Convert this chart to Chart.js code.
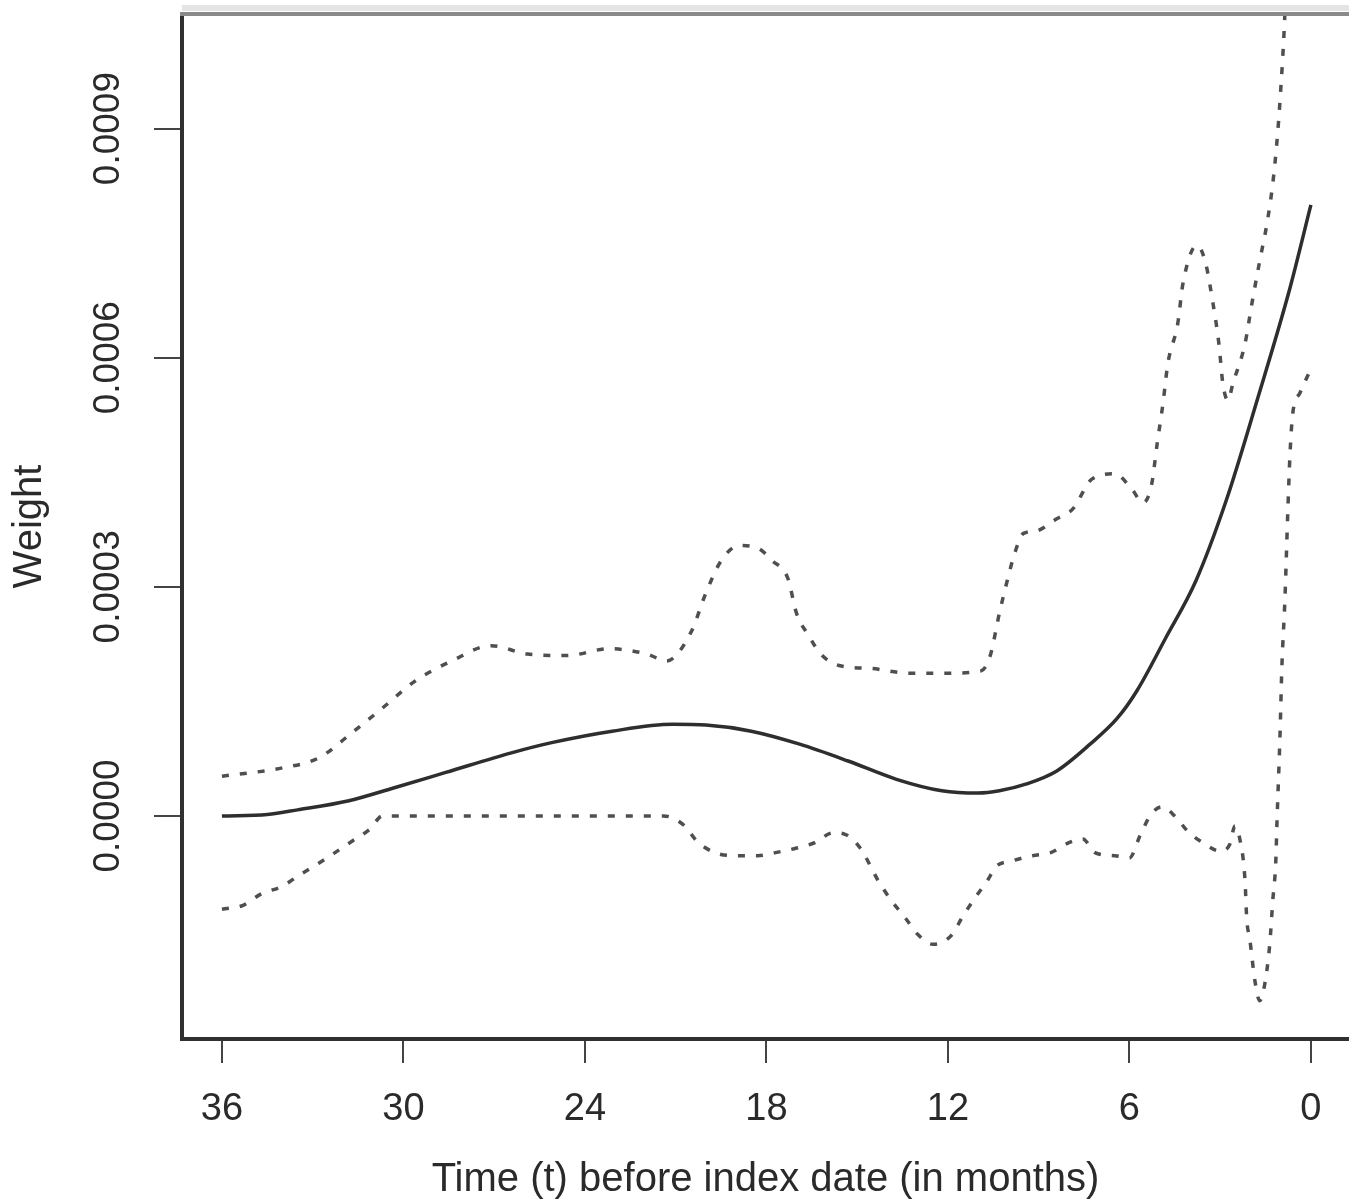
<!DOCTYPE html>
<html>
<head>
<meta charset="utf-8">
<script src="https://cdn.jsdelivr.net/npm/chart.js@4.4.1/dist/chart.umd.min.js"></script>
<style>
  html, body { margin: 0; padding: 0; background: #fff; }
  #plot { display: block; }
</style>
</head>
<body>
<canvas id="plot" width="1349" height="1204"></canvas>
<script>
// ── Data (months before index date → weight) ──
const xTicks = [36, 30, 24, 18, 12, 6, 0];
const yTicks = [0, 0.0003, 0.0006, 0.0009];

const monthsMid = [36, 34.5, 33.5, 31.8, 30.3, 28.6, 26.4, 25.1, 23.1, 21.1, 20, 18.5, 16.9, 15.3, 13.7, 12.2, 11, 10.3, 9.4, 8.4, 7.3, 6.4, 5.75, 4.8, 3.8, 2.8, 1.75, 0.7, 0];
const weightMid = [0, 0.000002, 0.000008, 0.00002, 0.000037, 0.000057, 0.000083, 0.000096, 0.000111, 0.00012, 0.000119, 0.000111, 0.000094, 0.000072, 0.000048, 0.000033, 0.00003, 0.000033, 0.000042, 0.000059, 0.000094, 0.000128, 0.000164, 0.000233, 0.000308, 0.000413, 0.000548, 0.00069, 0.0008];

const monthsUpper = [36, 34, 32.8, 31.7, 30.7, 29.6, 28.4, 27.1, 25.9, 24.6, 23.2, 21.95, 21.3, 20.5, 20, 19.5, 18.9, 18.3, 17.8, 17.3, 17, 16.6, 16.2, 15.6, 14.5, 13.3, 12, 10.9, 10.6, 10.3, 10, 9.8, 9.5, 9.1, 8.4, 7.87, 7.24, 6.48, 5.92, 5.55, 5.26, 5.09, 4.89, 4.73, 4.4, 4.23, 3.77, 3.5, 3.24, 3.04, 2.91, 2.74, 2.58, 2.18, 1.95, 1.69, 1.45, 1.26, 1.12, 1.02, 0.86, 0.75];
const weightUpper = [0.000052, 0.000063, 0.000076, 0.000109, 0.000141, 0.000177, 0.000203, 0.000223, 0.000212, 0.00021, 0.000219, 0.000212, 0.000203, 0.00024, 0.000292, 0.000334, 0.000354, 0.000351, 0.000334, 0.000312, 0.000265, 0.000236, 0.000212, 0.000197, 0.000193, 0.000187, 0.000187, 0.00019, 0.00021, 0.000265, 0.000314, 0.000343, 0.00037, 0.000373, 0.000389, 0.000402, 0.000441, 0.000448, 0.000428, 0.00041, 0.000435, 0.000485, 0.00054, 0.000592, 0.000645, 0.000697, 0.000747, 0.000727, 0.000672, 0.000618, 0.000566, 0.000544, 0.000566, 0.000618, 0.000671, 0.000727, 0.000776, 0.000828, 0.000884, 0.000937, 0.00105, 0.00118];

const monthsLower = [36, 35.3, 34.7, 34, 33.5, 32.8, 32.3, 31.7, 31.1, 30.7, 21.4, 20.7, 20.3, 19.7, 19, 18.3, 17.7, 17, 16.4, 15.8, 15.4, 14.9, 14.3, 13.9, 13.4, 13, 12.5, 11.9, 11.5, 11.1, 10.7, 10.4, 9.9, 9.2, 8.6, 8, 7.54, 7.14, 6.48, 6, 5.65, 5.32, 4.93, 4.5, 4.07, 3.57, 3, 2.68, 2.51, 2.35, 2.18, 2.12, 2.02, 1.85, 1.69, 1.52, 1.36, 1.26, 1.16, 1.12, 1.02, 0.96, 0.86, 0.76, 0.69, 0.6, 0.36, 0.03];
const weightLower = [-0.000122, -0.000117, -0.000102, -0.000092, -0.000079, -0.000062, -0.000049, -0.000033, -0.000017, 0, 0, -0.000013, -0.000033, -0.000048, -0.000052, -0.000052, -0.000048, -0.000042, -0.000035, -0.000022, -0.000024, -0.000042, -0.000085, -0.000109, -0.000134, -0.000155, -0.000168, -0.000157, -0.000131, -0.000107, -0.000085, -0.000066, -0.000059, -0.000052, -0.000048, -0.000035, -0.00003, -0.000048, -0.000052, -0.000055, -0.000026, 0, 0.000012, 0, -0.00002, -0.000035, -0.000046, -0.000037, -0.000013, -0.00003, -0.000083, -0.000135, -0.000161, -0.000216, -0.000242, -0.000219, -0.000168, -0.000111, -0.000059, -0.000007, 0.000107, 0.000194, 0.000282, 0.000402, 0.000474, 0.000527, 0.000554, 0.000583];

const FONT = "'Liberation Sans', Arial, sans-serif";

const pts = (xs, ys) => xs.map((x, i) => ({ x, y: ys[i] }));

// top frame line of the R plot box (bottom/left come from the axes)
const frameTop = {
  id: 'frameTop',
  afterDraw(chart) {
    const { ctx, chartArea: a } = chart;
    ctx.save();
    ctx.strokeStyle = '#e4e4e4';
    ctx.lineWidth = 6;
    ctx.beginPath();
    ctx.moveTo(a.left, a.top - 6);
    ctx.lineTo(a.right, a.top - 6);
    ctx.stroke();
    ctx.strokeStyle = '#8a8a8a';
    ctx.lineWidth = 4;
    ctx.beginPath();
    ctx.moveTo(a.left - 2, a.top);
    ctx.lineTo(a.right, a.top);
    ctx.stroke();
    ctx.restore();
  }
};

const dashed = {
  borderColor: '#4f4f4f',
  borderWidth: 3.5,
  borderDash: [7, 11],
  pointRadius: 0,
  cubicInterpolationMode: 'monotone',
  fill: false
};

new Chart(document.getElementById('plot'), {
  type: 'line',
  data: {
    datasets: [
      { data: pts(monthsUpper, weightUpper), ...dashed },
      { data: pts(monthsLower, weightLower), ...dashed },
      {
        data: pts(monthsMid, weightMid),
        borderColor: '#2e2e2e',
        borderWidth: 3.5,
        pointRadius: 0,
        cubicInterpolationMode: 'monotone',
        fill: false
      }
    ]
  },
  options: {
    responsive: false,
    animation: false,
    layout: { padding: { top: 14, right: 0, left: 0, bottom: 0 } },
    plugins: { legend: { display: false }, tooltip: { enabled: false } },
    scales: {
      x: {
        type: 'linear',
        reverse: true,
        min: -1.26,
        max: 37.32,
        afterBuildTicks: s => { s.ticks = xTicks.map(v => ({ value: v })); },
        afterFit: s => { s.height = 165; },
        ticks: {
          callback: v => String(v),
          color: '#2a2a2a',
          font: { family: FONT, size: 38 },
          padding: 24,
          maxRotation: 0
        },
        grid: { drawOnChartArea: false, tickLength: 24, color: '#444', lineWidth: 2 },
        border: { display: true, color: '#303030', width: 4 },
        title: {
          display: true,
          text: 'Time (t) before index date (in months)',
          color: '#2a2a2a',
          font: { family: FONT, size: 40 },
          padding: { top: 0, bottom: 0 }
        }
      },
      y: {
        type: 'linear',
        min: -0.000292,
        max: 0.00105,
        afterBuildTicks: s => { s.ticks = yTicks.map(v => ({ value: v })); },
        afterFit: s => { s.width = 182; },
        ticks: {
          callback: v => v.toFixed(4),
          color: '#2a2a2a',
          font: { family: FONT, size: 37 },
          minRotation: 90,
          maxRotation: 90,
          crossAlign: 'center',
          padding: -11
        },
        grid: { drawOnChartArea: false, tickLength: 28, color: '#444', lineWidth: 2 },
        border: { display: true, color: '#303030', width: 4 },
        title: {
          display: true,
          text: 'Weight',
          color: '#2a2a2a',
          font: { family: FONT, size: 40 },
          padding: { top: 6, bottom: 0 }
        }
      }
    }
  },
  plugins: [frameTop]
});
</script>
</body>
</html>
